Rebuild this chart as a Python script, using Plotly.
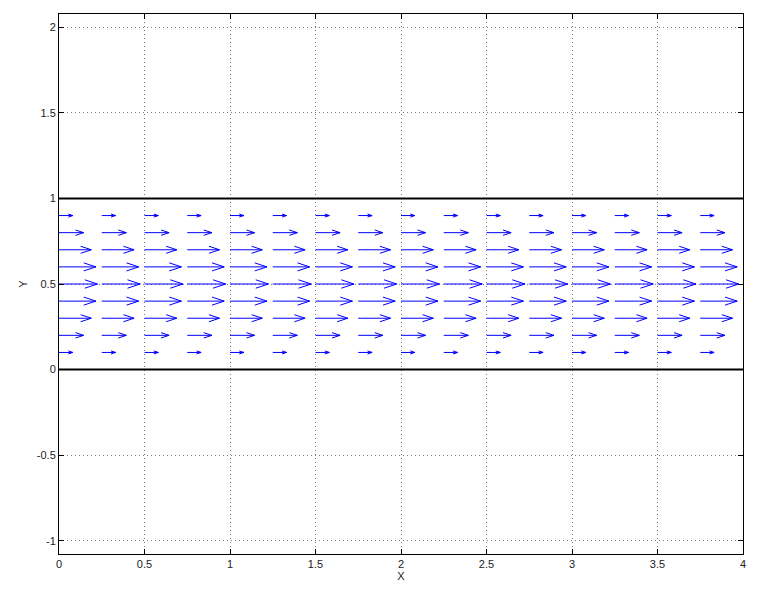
import plotly.graph_objects as go

# Data
x_cols = [0, 0.25, 0.5, 0.75, 1.0, 1.25, 1.5, 1.75, 2.0, 2.25, 2.5, 2.75, 3.0, 3.25, 3.5, 3.75]
y_rows = [0.1, 0.2, 0.3, 0.4, 0.5, 0.6, 0.7, 0.8, 0.9]
u_vals = [0.09, 0.16, 0.21, 0.24, 0.25, 0.24, 0.21, 0.16, 0.09]
wall_y = [0, 1]
x_ticks = [0, 0.5, 1, 1.5, 2, 2.5, 3, 3.5, 4]
y_ticks = [-1, -0.5, 0, 0.5, 1, 1.5, 2]

scale = 0.9
alpha = 0.33
beta = 0.33

sx, sy, hx, hy = [], [], [], []
for yv, u in zip(y_rows, u_vals):
    for xv in x_cols:
        L = u * scale
        tip = xv + L
        sx += [xv, tip, None]
        sy += [yv, yv, None]
        hx += [tip - alpha * L, tip, tip - alpha * L, None]
        hy += [yv + alpha * beta * L, yv, yv - alpha * beta * L, None]

fig = go.Figure()
fig.add_trace(go.Scatter(x=sx, y=sy, mode="lines", line=dict(color="#0000ff", width=1),
                         hoverinfo="skip", showlegend=False))
fig.add_trace(go.Scatter(x=hx, y=hy, mode="lines", line=dict(color="#0000ff", width=1),
                         hoverinfo="skip", showlegend=False))
for wy in wall_y:
    fig.add_trace(go.Scatter(x=[0, 4], y=[wy, wy], mode="lines", line=dict(color="black", width=2),
                             hoverinfo="skip", showlegend=False))

axis_common = dict(
    showline=True, linecolor="black", linewidth=1, mirror="ticks",
    ticks="inside", ticklen=5, tickcolor="black",
    showgrid=True, gridcolor="#777", griddash="1px,3px", gridwidth=1,
    zeroline=False, automargin=False,
    tickfont=dict(family="Liberation Sans, Arial", size=11, color="#222"),
)

fig.update_layout(
    width=766, height=599,
    paper_bgcolor="white", plot_bgcolor="white",
    margin=dict(l=51, r=31, t=6, b=53),
    xaxis=dict(range=[0, 4], tickvals=x_ticks, ticktext=[str(v) for v in x_ticks],
               title=dict(text="X", standoff=2, font=dict(family="Liberation Sans, Arial", size=11, color="#222")),
               **axis_common),
    yaxis=dict(range=[-1.078, 2.078], tickvals=y_ticks, ticktext=[str(v) for v in y_ticks],
               title=dict(text="Y", standoff=6, font=dict(family="Liberation Sans, Arial", size=11, color="#222")),
               **axis_common),
)

fig.write_html("out.html")
